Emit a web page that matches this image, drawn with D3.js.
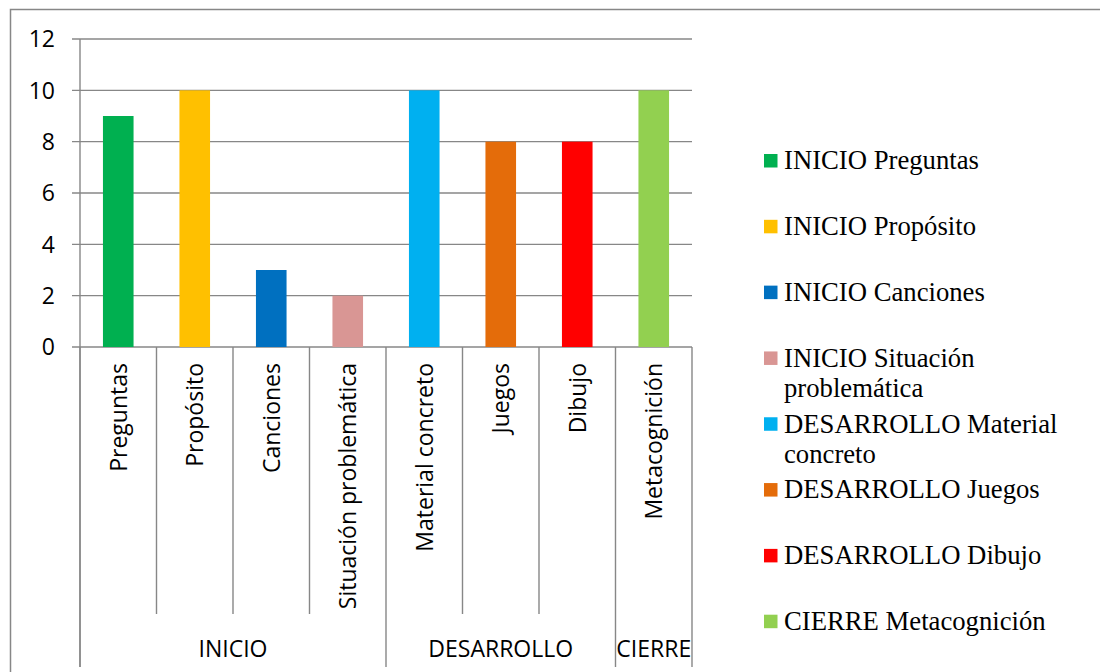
<!DOCTYPE html>
<html>
<head>
<meta charset="utf-8">
<script src="https://cdn.jsdelivr.net/npm/d3@7"></script>
<style>
  html, body { margin: 0; padding: 0; background: #fff; }
  svg { display: block; }
</style>
</head>
<body>
<svg id="chart" width="1100" height="672"></svg>
<script>
// Activity counts per lesson phase
const groups = ["INICIO", "INICIO", "INICIO", "INICIO", "DESARROLLO", "DESARROLLO", "DESARROLLO", "CIERRE"];
const categories = ["Preguntas", "Propósito", "Canciones", "Situación problemática", "Material concreto", "Juegos", "Dibujo", "Metacognición"];
const values = [9, 10, 3, 2, 10, 8, 8, 10];
const colors = ["#00B050", "#FFC000", "#0070C0", "#D99694", "#00B0F0", "#E46C0A", "#FF0000", "#92D050"];
const yTicks = [0, 2, 4, 6, 8, 10, 12];

const svg = d3.select("#chart");
const axisFont = "'Open Sans', sans-serif";
const legendFont = "'Liberation Serif', 'Times New Roman', serif";
const lineColor = "#878787";

const plot = { left: 80, right: 692, top: 39, bottom: 347 };
const innerTickBottom = 614, groupTickBottom = 667;

const x = d3.scaleBand()
  .domain(d3.range(categories.length))
  .range([plot.left, plot.right])
  .paddingInner(0.6)
  .paddingOuter(0.3);
const step = x.step();
const cellLeft = i => plot.left + i * step;

const y = d3.scaleLinear().domain([0, 12]).range([plot.bottom, plot.top]);

// chart frame
svg.append("rect")
  .attr("x", 10.5).attr("y", 9.5)
  .attr("width", 1200).attr("height", 720)
  .attr("fill", "none").attr("stroke", lineColor).attr("stroke-width", 1.5);

// horizontal gridlines with small outer ticks
svg.append("g").selectAll("line").data(yTicks).join("line")
  .attr("x1", plot.left - 8).attr("x2", plot.right)
  .attr("y1", d => y(d)).attr("y2", d => y(d))
  .attr("stroke", lineColor).attr("stroke-width", 1.4);

// y tick labels
svg.append("g").selectAll("text").data(yTicks).join("text")
  .attr("x", 55).attr("y", d => y(d)).attr("dy", "0.36em")
  .attr("text-anchor", "end")
  .attr("font-family", axisFont).attr("font-size", 23).attr("fill", "#000")
  .text(d => d);

// bars
svg.append("g").selectAll("rect").data(values).join("rect")
  .attr("x", (d, i) => x(i))
  .attr("width", x.bandwidth())
  .attr("y", d => y(d))
  .attr("height", d => y(0) - y(d))
  .attr("fill", (d, i) => colors[i]);

// value axis line
svg.append("line")
  .attr("x1", plot.left).attr("x2", plot.left)
  .attr("y1", plot.top).attr("y2", groupTickBottom)
  .attr("stroke", lineColor).attr("stroke-width", 1.4);

// category separators: short inside a group, long between groups
const boundaries = d3.range(categories.length + 1);
svg.append("g").selectAll("line").data(boundaries).join("line")
  .attr("x1", i => cellLeft(i)).attr("x2", i => cellLeft(i))
  .attr("y1", plot.bottom)
  .attr("y2", i => (i === 0 || i === categories.length || groups[i] !== groups[i - 1]) ? groupTickBottom : innerTickBottom)
  .attr("stroke", lineColor).attr("stroke-width", 1.4);

// rotated category labels
svg.append("g").selectAll("text").data(categories).join("text")
  .attr("transform", (d, i) => `translate(${x(i) + x.bandwidth() / 2},363) rotate(-90)`)
  .attr("dy", "0.36em")
  .attr("text-anchor", "end")
  .attr("font-family", axisFont).attr("font-size", 23).attr("fill", "#000")
  .text(d => d);

// group labels centred under their spans
const spans = [];
groups.forEach((g, i) => {
  if (!spans.length || spans[spans.length - 1].name !== g) spans.push({ name: g, start: i, end: i + 1 });
  else spans[spans.length - 1].end = i + 1;
});
svg.append("g").selectAll("text").data(spans).join("text")
  .attr("x", s => (cellLeft(s.start) + cellLeft(s.end)) / 2)
  .attr("y", 657)
  .attr("text-anchor", "middle")
  .attr("font-family", axisFont).attr("font-size", 23).attr("fill", "#000")
  .text(s => s.name);

// legend
const legendY = d3.scalePoint().domain(d3.range(categories.length)).range([160.5, 621.2]);
const legendMaxWidth = 290;
const legend = svg.append("g");
categories.forEach((c, i) => {
  const cy = legendY(i);
  legend.append("rect")
    .attr("x", 764).attr("y", cy - 6.5)
    .attr("width", 13.5).attr("height", 13.5)
    .attr("fill", colors[i]);
  const t = legend.append("text")
    .attr("x", 784).attr("y", cy).attr("dy", "0.33em")
    .attr("font-family", legendFont).attr("font-size", 26.7).attr("fill", "#000");
  // wrap words onto extra lines when too wide
  const words = (groups[i] + " " + c).split(" ");
  let line = [];
  let tspan = t.append("tspan").attr("x", 784);
  words.forEach(w => {
    line.push(w);
    tspan.text(line.join(" "));
    if (tspan.node().getComputedTextLength() > legendMaxWidth && line.length > 1) {
      line.pop();
      tspan.text(line.join(" "));
      line = [w];
      tspan = t.append("tspan").attr("x", 784).attr("dy", 30.5).text(w);
    }
  });
});
</script>
</body>
</html>
